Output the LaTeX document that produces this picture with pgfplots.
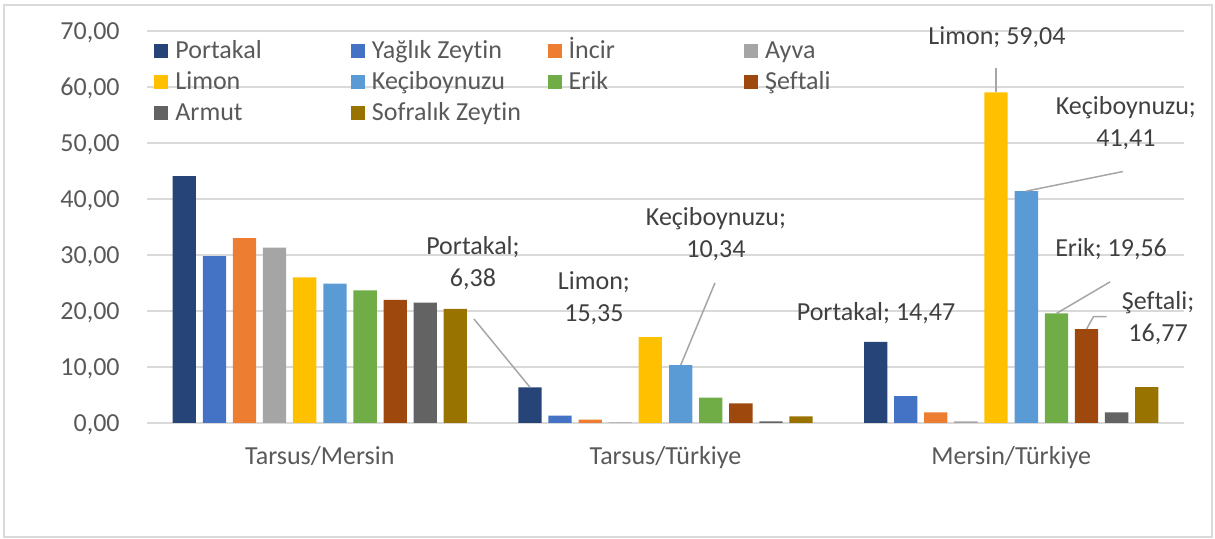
\documentclass[border=0pt]{standalone}
\usepackage{pgfplots}
\pgfplotsset{compat=1.18}
\usepackage{fontspec}
\setmainfont{Carlito}[Ligatures=NoCommon]
\definecolor{cPortakal}{HTML}{264478}
\definecolor{cYaglik}{HTML}{4472C4}
\definecolor{cIncir}{HTML}{ED7D31}
\definecolor{cAyva}{HTML}{A5A5A5}
\definecolor{cLimon}{HTML}{FFC000}
\definecolor{cKeci}{HTML}{5B9BD5}
\definecolor{cErik}{HTML}{70AD47}
\definecolor{cSeftali}{HTML}{9E480E}
\definecolor{cArmut}{HTML}{636363}
\definecolor{cSofralik}{HTML}{997300}
\definecolor{gridc}{HTML}{D9D9D9}
\definecolor{tickc}{HTML}{595959}
\definecolor{lblc}{HTML}{404040}
\definecolor{leadc}{HTML}{A6A6A6}
\begin{document}
\begin{tikzpicture}[font=\fontsize{13}{16}\selectfont]
\path[use as bounding box] (-73.5pt,-58pt) rectangle (534pt,211.5pt);
\draw[gridc, line width=1pt] (-71.5pt,-56.8pt) rectangle (532.5pt,209pt);
\begin{axis}[
  at={(0pt,0pt)}, anchor=south west,
  scale only axis, width=518.5pt, height=196pt,
  xmin=-0.5, xmax=2.5, ymin=0, ymax=70,
  ybar, bar width=0.0674,
  clip=false,
  xtick={0,1,2},
  xticklabels={Tarsus/Mersin,Tarsus/Türkiye,Mersin/Türkiye},
  ytick={0,10,...,70},
  ymajorgrids, grid style={gridc, line width=1pt},
  axis line style={draw=none},
  major tick length=0pt,
  tick label style={text=tickc},
  xticklabel style={anchor=base, inner sep=0pt, yshift=-20.8pt},
  yticklabel style={anchor=base east, inner sep=0pt, xshift=-13.5pt, yshift=-4.2pt},
  /pgf/number format/.cd, fixed, fixed zerofill, precision=2, use comma, assume math mode=true,
  /pgfplots/.cd,
  every axis plot/.append style={draw=none,
    legend image code/.code={\fill[##1] (0pt,-3.5pt) rectangle (7pt,3.5pt);}},
  legend columns=4,
  legend cell align=left,
  legend style={draw=none, fill=none, at={(0,1)}, anchor=north west,
    xshift=3.5pt, yshift=-2.25pt, inner sep=0pt, column sep=0pt, row sep=0pt,
    text=tickc,
    nodes={inner xsep=3.5pt, inner ysep=1.25pt, text height=10pt, text depth=3pt}},
]
\addplot[fill=cPortakal, bar shift=-0.392] coordinates {(0,44.1) (1,6.38) (2,14.47)};
\addlegendentry{\makebox[84.3pt][l]{Portakal}}
\addplot[fill=cYaglik, bar shift=-0.305] coordinates {(0,29.8) (1,1.3) (2,4.8)};
\addlegendentry{\makebox[84.3pt][l]{Yağlık Zeytin}}
\addplot[fill=cIncir, bar shift=-0.218] coordinates {(0,33.0) (1,0.6) (2,1.9)};
\addlegendentry{\makebox[84.3pt][l]{İncir}}
\addplot[fill=cAyva, bar shift=-0.131] coordinates {(0,31.3) (1,0.1) (2,0.3)};
\addlegendentry{\makebox[84.3pt][l]{Ayva}}
\addplot[fill=cLimon, bar shift=-0.044] coordinates {(0,26.0) (1,15.35) (2,59.04)};
\addlegendentry{\makebox[84.3pt][l]{Limon}}
\addplot[fill=cKeci, bar shift=0.044] coordinates {(0,24.9) (1,10.34) (2,41.41)};
\addlegendentry{\makebox[84.3pt][l]{Keçiboynuzu}}
\addplot[fill=cErik, bar shift=0.131] coordinates {(0,23.7) (1,4.55) (2,19.56)};
\addlegendentry{\makebox[84.3pt][l]{Erik}}
\addplot[fill=cSeftali, bar shift=0.218] coordinates {(0,22.0) (1,3.5) (2,16.77)};
\addlegendentry{\makebox[84.3pt][l]{Şeftali}}
\addplot[fill=cArmut, bar shift=0.305] coordinates {(0,21.5) (1,0.3) (2,1.9)};
\addlegendentry{\makebox[84.3pt][l]{Armut}}
\addplot[fill=cSofralik, bar shift=0.392] coordinates {(0,20.4) (1,1.2) (2,6.4)};
\addlegendentry{\makebox[84.3pt][l]{Sofralık Zeytin}}
% leader lines
\draw[leadc, line width=0.75pt] (axis cs:0.446,18.57) -- (axis cs:0.608,6.38);
\draw[leadc, line width=0.75pt] (axis cs:1.143,25.0) -- (axis cs:1.044,10.34);
\draw[leadc, line width=0.75pt] (axis cs:1.956,63.4) -- (axis cs:1.956,59.04);
\draw[leadc, line width=0.75pt] (axis cs:2.323,44.9) -- (axis cs:2.044,41.41);
\draw[leadc, line width=0.75pt] (axis cs:2.286,25.2) -- (axis cs:2.131,19.56);
\draw[leadc, line width=0.75pt] (axis cs:2.276,18.98) -- (axis cs:2.238,18.98) -- (axis cs:2.218,16.77);
% data labels
\begin{scope}[every node/.style={text=lblc, align=center, inner sep=0pt}]
\node at (axis cs:0.443,28.57) {Portakal;\\6,38};
\node at (axis cs:0.793,22.3) {Limon;\\15,35};
\node at (axis cs:1.146,33.75) {Keçiboynuzu;\\10,34};
\node at (axis cs:1.609,19.64) {Portakal; 14,47};
\node at (axis cs:1.959,68.9) {Limon; 59,04};
\node at (axis cs:2.332,53.6) {Keçiboynuzu;\\41,41};
\node at (axis cs:2.289,31.07) {Erik; 19,56};
\node at (axis cs:2.425,18.75) {Şeftali;\\16,77};
\end{scope}
\end{axis}
\end{tikzpicture}
\end{document}
